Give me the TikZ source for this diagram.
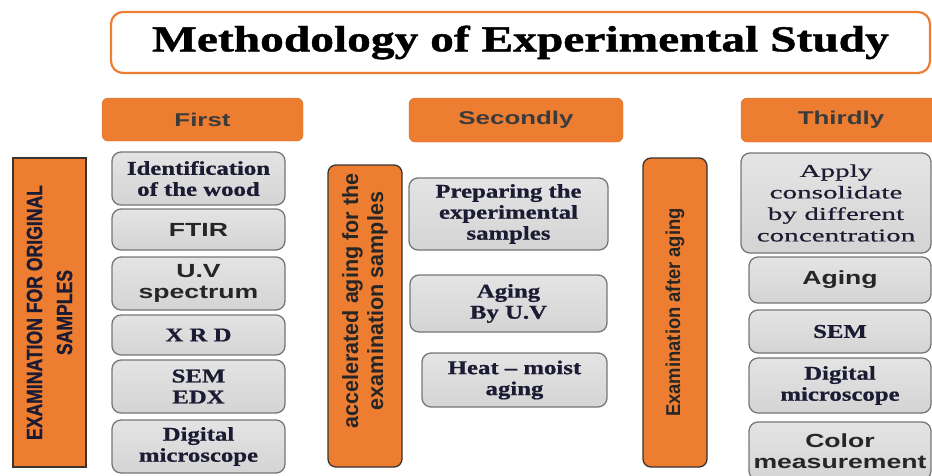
\documentclass[tikz,border=0pt]{standalone}
\usepackage{fontspec}
\setmainfont{Liberation Serif}
\newfontfamily\titlefont{Liberation Serif}[FakeStretch=1.3,FakeBold=1.2]
\newfontfamily\boxserif{Liberation Serif}[FakeStretch=1.27,FakeBold=0.8]
\newfontfamily\applyfont{Liberation Serif}[FakeStretch=1.62,FakeBold=0.6]
\newfontfamily\boxsans{Liberation Sans}[FakeStretch=1.4]
\newfontfamily\barA{Liberation Sans}[FakeStretch=0.8,FakeBold=1]
\newfontfamily\barB{Liberation Sans}[FakeStretch=0.98]
\newfontfamily\barC{Liberation Sans}[FakeStretch=0.92]
\definecolor{orng}{HTML}{ED7D31}
\definecolor{hdtext}{HTML}{3B3B3B}
\definecolor{gfillT}{HTML}{E4E4E4}
\definecolor{gfillB}{HTML}{D4D4D4}
\definecolor{gline}{HTML}{767676}
\definecolor{navy}{HTML}{1B1B33}
\definecolor{dtext}{HTML}{262626}
\definecolor{barline}{HTML}{3A3330}
\tikzset{
  titlebox/.style={draw=orng, line width=2.2pt, fill=white, rounded corners=12pt, inner sep=0pt},
  headbox/.style={fill=orng, draw=orng!90!black, line width=0.4pt, rounded corners=6pt, inner sep=0pt,
    font=\boxsans\bfseries\fontsize{18.5}{20}\selectfont, text=hdtext},
  gbox/.style={draw=gline, line width=1.3pt, top color=gfillT, bottom color=gfillB, rounded corners=9pt,
    inner sep=0pt, align=center},
  gserif/.style={gbox, font=\boxserif\bfseries\fontsize{19.5}{21}\selectfont, text=navy},
  gsans/.style={gbox, font=\boxsans\bfseries\fontsize{19}{21}\selectfont, text=dtext},
  barbox/.style={fill=orng, draw=barline, line width=1.3pt, inner sep=0pt},
  bartext/.style={rotate=90, align=center, inner sep=0pt}
}
\begin{document}
\begin{tikzpicture}[x=1pt,y=-1pt]
\useasboundingbox (0,0) rectangle (932,475);
\begin{scope}
\clip (0,0) rectangle (932,475);
% title
\node[titlebox, minimum width=819, minimum height=61] (title) at (520.5,42.5)
  {\titlefont\bfseries\fontsize{36.5}{40}\selectfont Methodology of Experimental Study};
% headers
\node[headbox, minimum width=201, minimum height=43] (first) at (202.5,119.5) {First};
\node[headbox, minimum width=214, minimum height=44] (second) at (516,120) {Secondly};
\node[headbox, minimum width=200, minimum height=44] (third) at (841,120) {Thirdly};
% vertical bars
\node[barbox, minimum width=73, minimum height=309] (bar1) at (49.5,312.5) {};
\node[bartext, font=\barA\bfseries\fontsize{22}{30}\selectfont, text=navy] (bar1t) at (bar1.center)
  {EXAMINATION FOR ORIGINAL\\SAMPLES};
\node[barbox, rounded corners=8pt, minimum width=74, minimum height=302] (bar2) at (365,316) {};
\node[bartext, font=\barB\bfseries\fontsize{22}{25}\selectfont, text=dtext] (bar2t) at (365,301)
  {accelerated aging for the\\examination samples};
\node[barbox, rounded corners=8pt, minimum width=64, minimum height=309] (bar3) at (675,312.5) {};
\node[bartext, font=\barC\bfseries\fontsize{20}{24}\selectfont, text=dtext] (bar3t) at (bar3.center)
  {Examination after aging};
% column 1
\node[gserif, minimum width=173, minimum height=53] (ident) at (198.5,178.5) {Identification\\of the wood};
\node[gsans, minimum width=173, minimum height=41] (ftir) at (198.5,229.5) {FTIR};
\node[gsans, minimum width=173, minimum height=53] (uv) at (198.5,283.5) {U.V\\spectrum};
\node[gserif, minimum width=173, minimum height=40] (xrd) at (198.5,335) {X R D};
\node[gserif, minimum width=173, minimum height=53] (semedx) at (198.5,386.5) {SEM\\EDX};
\node[gserif, minimum width=173, minimum height=53] (digA) at (198.5,446.5) {Digital\\microscope};
% column 2
\node[gserif, minimum width=199, minimum height=72] (prep) at (508.5,214) {Preparing the\\experimental\\samples};
\node[gserif, minimum width=197, minimum height=57] (aguv) at (508.5,303.5) {Aging\\By U.V};
\node[gserif, minimum width=185, minimum height=54] (heat) at (514.5,380) {Heat – moist\\aging};
% column 3
\node[gbox, font=\applyfont\fontsize{18}{21.5}\selectfont, text=navy, minimum width=190, minimum height=100] (apply) at (836,203)
  {Apply\\consolidate\\by different\\concentration};
\node[gsans, minimum width=182, minimum height=46] (aging) at (840,280) {Aging};
\node[gserif, minimum width=182, minimum height=43] (semB) at (840,331.5) {SEM};
\node[gserif, minimum width=182, minimum height=55] (digB) at (840,385.5) {Digital\\microscope};
\node[gsans, minimum width=182, minimum height=58] (color) at (840,451) {Color\\measurement};
\end{scope}
\end{tikzpicture}
\end{document}
